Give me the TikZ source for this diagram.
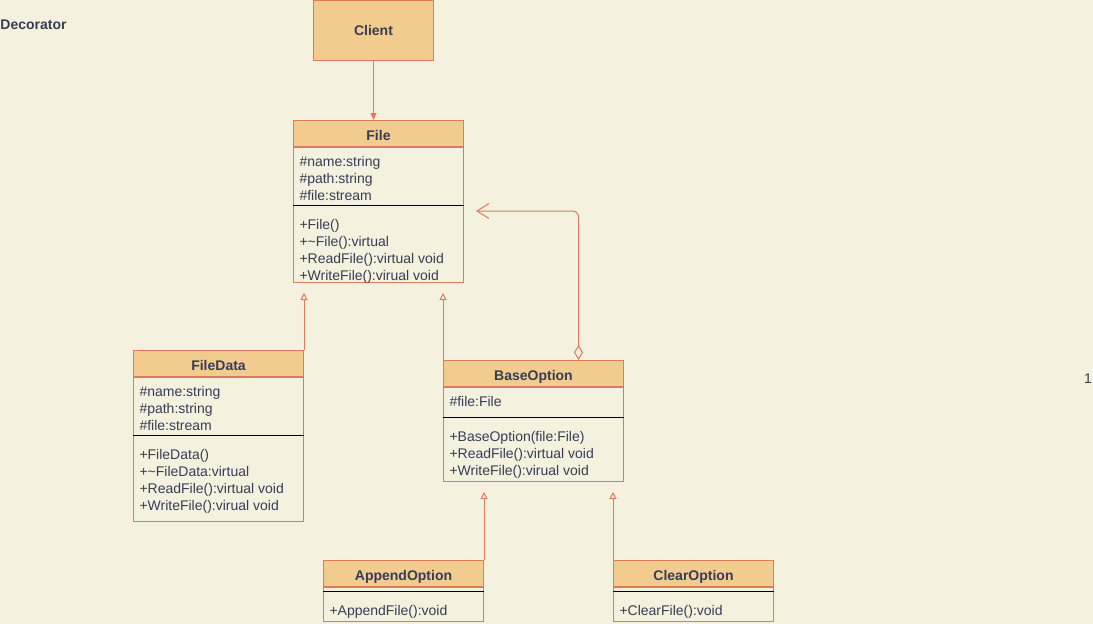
\documentclass[tikz,border=0pt]{standalone}
\usepackage{fontspec}
\setmainfont{Liberation Sans}
\usetikzlibrary{arrows.meta}
\usetikzlibrary{positioning}
\definecolor{bgcol}{HTML}{F4F1DE}
\definecolor{headfill}{HTML}{F2CC8F}
\definecolor{stroke}{HTML}{E07A5F}
\definecolor{ink}{HTML}{393C56}
\tikzset{
    txt/.style = {inner sep=0pt, text=ink, font=\fontsize{14}{17}\selectfont},
    head/.style = {txt, rectangle, draw=stroke, fill=headfill, anchor=north west, minimum height=26pt, font=\fontsize{14}{17}\selectfont\bfseries},
    classhead/.style = {head, text height=14pt, text depth=0pt},
    body/.style = {rectangle, draw=stroke, fill=bgcol, inner sep=0pt},
    member/.style = {txt, align=left, anchor=base west},
    sepline/.style = {draw=black, line width=1pt},
    inherit/.style = {draw=stroke, -{Triangle[open, length=7pt, width=7pt]}},
    assoc/.style = {draw=stroke, -{Triangle[length=7pt, width=6pt]}},
    aggr/.style = {draw=stroke, rounded corners=6pt, {Diamond[open, length=15pt, width=9pt]}-{Straight Barb[length=12pt, width=15pt]}}
}
\begin{document}
\begin{tikzpicture}[x=1pt, y=-1pt, line width=1pt]
    \fill[bgcol] (0,0) rectangle (1093,624);
    \useasboundingbox (0,0) rectangle (1093,624);

    \node[txt, anchor=west, font=\fontsize{14}{17}\selectfont\bfseries] (title) at (0,25) {Decorator};
    \node[txt] (one) at (1088,379) {1};

    % client
    \node[head, minimum width=120pt, minimum height=60pt] (client) at (313,0) {Client};

    % File
    \node[classhead, minimum width=170pt] (file) at (293,120) {File};
    \node[body, minimum width=170pt, minimum height=135pt, below=0pt of file] (file-body) {};
    \node[member] (file-attr) at ([xshift=6pt, yshift=-53pt]file-body.north west)
        {\#name:string\\\#path:string\\\#file:stream};
    \draw[sepline] ([yshift=-58pt]file-body.north west) -- ([yshift=-58pt]file-body.north east);
    \node[member] (file-ops) at ([xshift=6pt, yshift=-133pt]file-body.north west)
        {+File()\\+\textasciitilde File():virtual\\+ReadFile():virtual void\\+WriteFile():virual void};

    % FileData
    \node[classhead, minimum width=170pt] (fdata) at (133,350) {FileData};
    \node[body, minimum width=170pt, minimum height=144pt, below=0pt of fdata] (fdata-body) {};
    \node[member] (fdata-attr) at ([xshift=6pt, yshift=-53pt]fdata-body.north west)
        {\#name:string\\\#path:string\\\#file:stream};
    \draw[sepline] ([yshift=-58pt]fdata-body.north west) -- ([yshift=-58pt]fdata-body.north east);
    \node[member] (fdata-ops) at ([xshift=6pt, yshift=-133pt]fdata-body.north west)
        {+FileData()\\+\textasciitilde FileData:virtual\\+ReadFile():virtual void\\+WriteFile():virual void};

    % BaseOption
    \node[classhead, minimum width=180pt] (base) at (443,360) {BaseOption};
    \node[body, minimum width=180pt, minimum height=94pt, below=0pt of base] (base-body) {};
    \node[member] (base-attr) at ([xshift=6pt, yshift=-19pt]base-body.north west) {\#file:File};
    \draw[sepline] ([yshift=-30pt]base-body.north west) -- ([yshift=-30pt]base-body.north east);
    \node[member] (base-ops) at ([xshift=6pt, yshift=-88pt]base-body.north west)
        {+BaseOption(file:File)\\+ReadFile():virtual void\\+WriteFile():virual void};

    % AppendOption
    \node[classhead, minimum width=160pt] (append) at (323,560) {AppendOption};
    \node[body, minimum width=160pt, minimum height=34pt, below=0pt of append] (append-body) {};
    \draw[sepline] ([yshift=-4pt]append-body.north west) -- ([yshift=-4pt]append-body.north east);
    \node[member] (append-ops) at ([xshift=6pt, yshift=-28pt]append-body.north west) {+AppendFile():void};

    % ClearOption
    \node[classhead, minimum width=160pt] (clear) at (613,560) {ClearOption};
    \node[body, minimum width=160pt, minimum height=34pt, below=0pt of clear] (clear-body) {};
    \draw[sepline] ([yshift=-4pt]clear-body.north west) -- ([yshift=-4pt]clear-body.north east);
    \node[member] (clear-ops) at ([xshift=6pt, yshift=-28pt]clear-body.north west) {+ClearFile():void};

    % connectors
    \draw[assoc] (client.south) -- (client.south |- file.north);
    \draw[inherit] (fdata.north east) -- ([yshift=-10pt]fdata.north east |- file-body.south);
    \draw[inherit] (base.north west) -- ([yshift=-10pt]base.north west |- file-body.south);
    \draw[inherit] (append.north east) -- ([yshift=-10pt]append.north east |- base-body.south);
    \draw[inherit] (clear.north west) -- ([yshift=-10pt]clear.north west |- base-body.south);
    \draw[aggr] ([xshift=45pt]base.north) |- ([xshift=12pt, yshift=-64pt]file-body.north east);
\end{tikzpicture}
\end{document}
